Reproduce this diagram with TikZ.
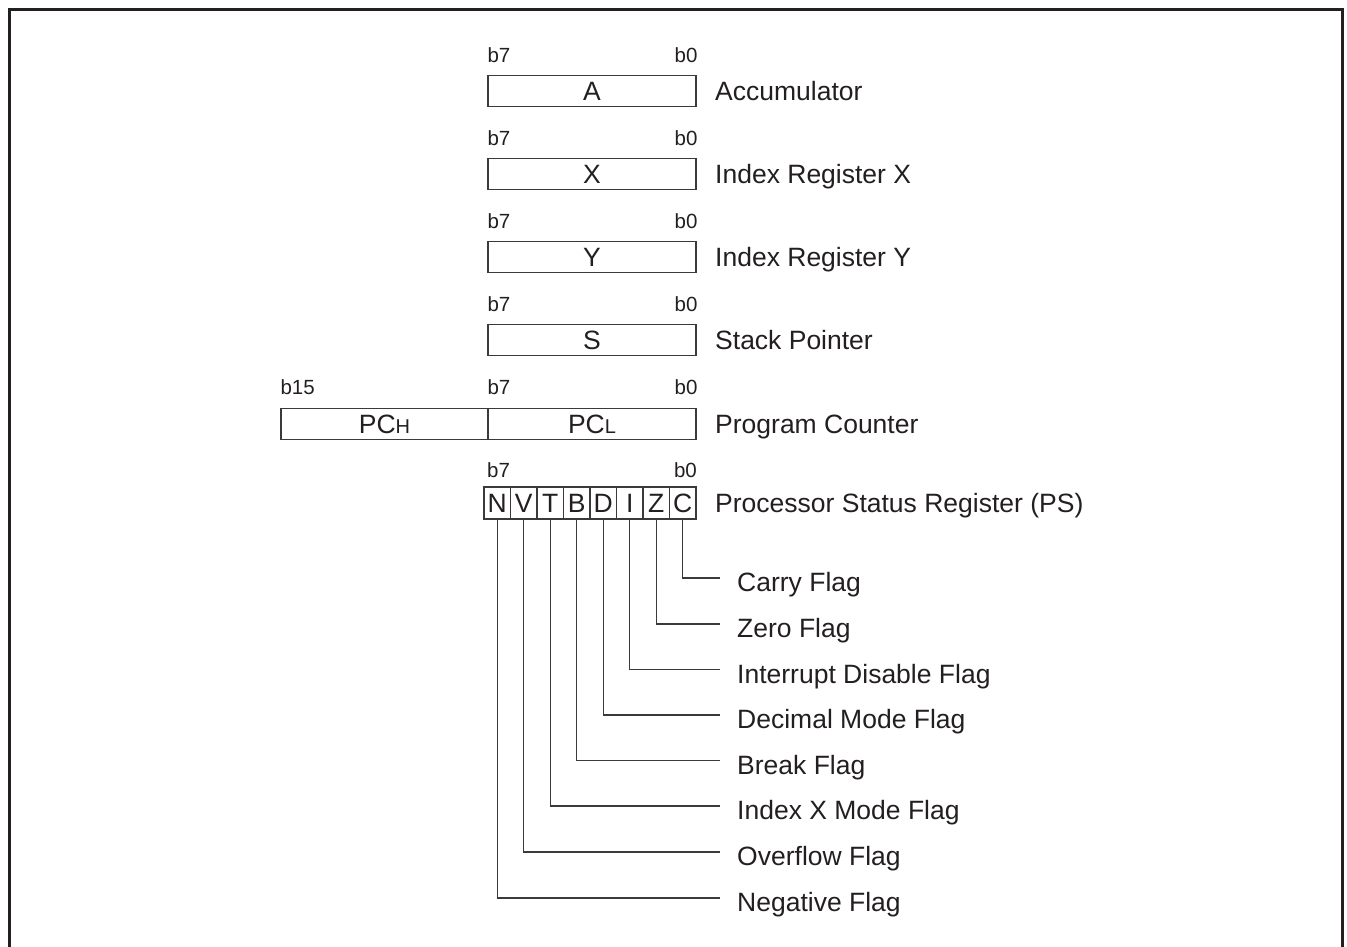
\documentclass[tikz,border=0pt]{standalone}
\usepackage{fontspec}
\setmainfont{Liberation Sans}
\definecolor{ink}{HTML}{231F20}
\definecolor{wirec}{HTML}{3A3A3A}
\begin{document}
\begin{tikzpicture}[x=1pt,y=-1pt,
  every node/.style={text=ink, font=\fontsize{26.5}{30}\selectfont, inner sep=0pt},
  reg/.style={draw=wirec, line width=1.4pt, minimum width=208pt, minimum height=31pt, text height=19pt, text depth=0pt},
  flagbox/.style={draw=wirec, line width=1.4pt, minimum width=26.5pt, minimum height=32pt, text height=19pt, text depth=0pt},
  lbl/.style={anchor=west, text height=19pt, text depth=0pt},
  bitl/.style={font=\fontsize{20.5}{24}\selectfont, text height=14.7pt, text depth=0pt},
  wire/.style={draw=wirec, line width=1.4pt}]
\useasboundingbox (0,0) rectangle (1347,947);
% frame
\draw[line width=3pt, draw=ink] (9,960) -- (9,10) -- (1342,10) -- (1342,960);

% registers
\foreach \nm/\txt/\lab/\yy in {A/A/Accumulator/91, X/X/Index Register X/174, Y/Y/Index Register Y/257, S/S/Stack Pointer/340}{
  \node[reg] (\nm) at (592,\yy) {\txt};
  \node[lbl] (\nm lab) at (715,\yy) {\lab};
  \node[bitl, anchor=west] (\nm b7) at ([yshift=35.5pt]\nm.west) {b7};
  \node[bitl, anchor=east] (\nm b0) at ([yshift=35.5pt,xshift=1pt]\nm.east) {b0};
}

% program counter
\node[reg, minimum width=207pt] (PCH) at (384.5,424) {PC{\fontsize{20}{24}\selectfont H}};
\node[reg] (PCL) at (592,424) {PC{\fontsize{20}{24}\selectfont L}};
\node[lbl] (PClab) at (715,424) {Program Counter};
\node[bitl, anchor=west] (PCb15) at ([yshift=36.5pt]PCH.west) {b15};
\node[bitl, anchor=west] (PCb7) at ([yshift=36.5pt]PCL.west) {b7};
\node[bitl, anchor=east] (PCb0) at ([yshift=36.5pt,xshift=1pt]PCL.east) {b0};

% processor status
\foreach \nm/\xx in {N/497.25, V/523.75, T/550.25, B/576.75, D/603.25, I/629.75, Z/656.25, C/682.75}{
  \node[flagbox] (\nm) at (\xx,503) {\nm};
}
\node[lbl] (PSlab) at (715,503) {Processor Status Register (PS)};
\node[bitl, anchor=west] (PSb7) at (487,470) {b7};
\node[bitl, anchor=east] (PSb0) at (697,470) {b0};

% flag labels and connectors
\foreach \nm/\lab/\yy in {C/Carry Flag/578, Z/Zero Flag/624, I/Interrupt Disable Flag/669.5, D/Decimal Mode Flag/715, B/Break Flag/760.5, T/Index X Mode Flag/806, V/Overflow Flag/852, N/Negative Flag/898}{
  \node[lbl] (\nm lab) at (737,\yy+4) {\lab};
  \draw[wire] (\nm.south) |- ([xshift=-17pt,yshift=4pt]\nm lab.west);
}
\end{tikzpicture}
\end{document}
